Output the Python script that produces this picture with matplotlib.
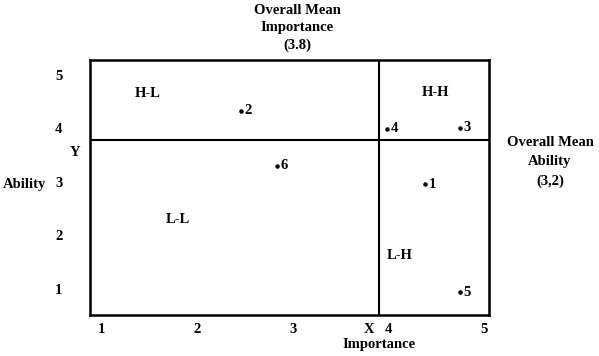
import matplotlib
matplotlib.use("Agg")
import matplotlib.pyplot as plt

# Data
item_ids = ["1", "2", "3", "4", "5", "6"]
importance = [4.38, 2.46, 4.75, 3.99, 4.75, 2.84]
ability = [2.96, 4.33, 4.01, 3.99, 0.94, 3.30]

x_ticks = [1, 2, 3, 4, 5]
y_ticks = [1, 2, 3, 4, 5]
x_mean_label = "X"
x_mean_tick = 3.8

# divider positions as drawn in the chart
divider_x = 3.90
divider_y = 3.79

quadrants = ["H-L", "H-H", "L-L", "L-H"]
quad_x = [1.49, 4.49, 1.80, 4.12]
quad_y = [4.66, 4.68, 2.29, 1.62]

plt.rcParams['font.family'] = ['Liberation Serif', 'DejaVu Serif']
plt.rcParams['font.weight'] = 'bold'

fig = plt.figure(figsize=(5.99, 3.56), dpi=100)
ax = fig.add_axes([0.1503, 0.1152, 0.6661, 0.7163])
ax.set_xlim(0.885, 5.05)
ax.set_ylim(0.51, 5.28)

for s in ax.spines.values():
    s.set_linewidth(1.8)
    s.set_color('black')

ax.axvline(divider_x, color='black', lw=1.5)
ax.axhline(divider_y, color='black', lw=1.5)

ax.scatter(importance, ability, s=5, color='black', zorder=3)
for i, x, y in zip(item_ids, importance, ability):
    ax.annotate(i, (x, y), xytext=(2.5, 0), textcoords='offset points',
                ha='left', va='center', fontsize=10.5, fontweight='bold')

for q, x, y in zip(quadrants, quad_x, quad_y):
    ax.text(x, y, q, ha='center', va='center', fontsize=10.5, fontweight='bold')

xt = x_ticks[:3] + [x_mean_tick] + x_ticks[3:]
xl = [str(t) for t in x_ticks[:3]] + [x_mean_label] + [str(t) for t in x_ticks[3:]]
ax.set_xticks(xt)
ax.set_xticklabels(xl, fontsize=10.5, fontweight='bold')
ax.set_yticks(y_ticks)
ax.set_yticklabels([str(t) for t in y_ticks], fontsize=10.5, fontweight='bold')
ax.tick_params(axis='x', length=0, pad=6)
ax.tick_params(axis='y', length=0, pad=20)

ax.set_xlabel("Importance", fontsize=10.5, fontweight='bold', labelpad=2)
ax.xaxis.set_label_coords(0.725, -0.09)

fig.text(25/599, 1 - 184/356, "Ability", ha='center', va='center',
         fontsize=10.5, fontweight='bold')
fig.text(75/599, 1 - 153/356, "Y", ha='center', va='center',
         fontsize=10.5, fontweight='bold')

fig.text(297/599, 1 - 28/356, "Overall Mean\nImportance\n(3.8)", ha='center',
         va='center', fontsize=10.5, fontweight='bold', linespacing=1.45)
fig.text(550/599, 1 - 162/356, "Overall Mean\nAbility\n(3,2)", ha='center',
         va='center', fontsize=10.5, fontweight='bold', linespacing=1.65)

fig.savefig("out.png", dpi=100, facecolor='white')
